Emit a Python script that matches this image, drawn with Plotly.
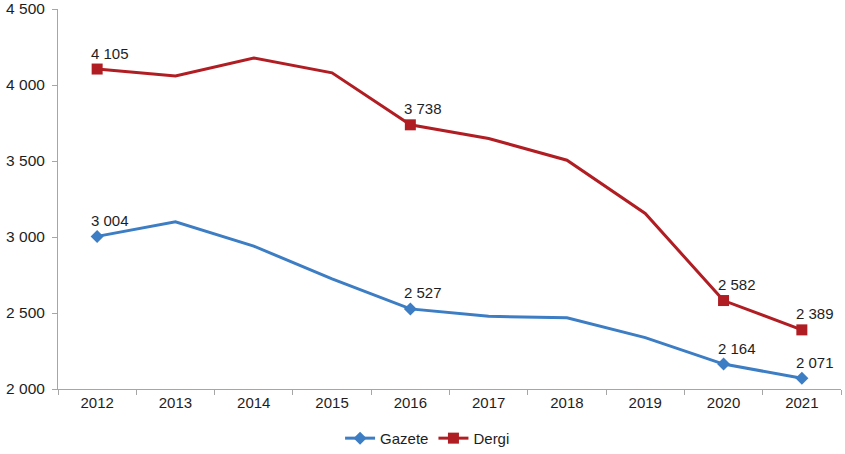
import plotly.graph_objects as go

years = ["2012", "2013", "2014", "2015", "2016", "2017", "2018", "2019", "2020", "2021"]
gazete = [3004, 3100, 2940, 2725, 2527, 2478, 2468, 2338, 2164, 2071]
dergi = [4105, 4060, 4178, 4080, 3738, 3648, 3505, 3155, 2582, 2389]
labeled_years = ["2012", "2016", "2020", "2021"]
y_ticks = [2000, 2500, 3000, 3500, 4000, 4500]

BLUE = "#3C7DC4"
RED = "#B01E23"
FONT = "Liberation Sans, Arial, sans-serif"
TXT = "#1E1E1E"


def fmt(v):
    return f"{v:,}".replace(",", " ")


def marker_colors(color):
    return [color if y in labeled_years else "rgba(0,0,0,0)" for y in years]


fig = go.Figure()
fig.add_trace(go.Scatter(
    x=years, y=gazete, name="Gazete", mode="lines+markers",
    line=dict(color=BLUE, width=3),
    marker=dict(symbol="diamond", size=10, color=marker_colors(BLUE), line=dict(width=0)),
))
fig.add_trace(go.Scatter(
    x=years, y=dergi, name="Dergi", mode="lines+markers",
    line=dict(color=RED, width=3),
    marker=dict(symbol="square", size=11, color=marker_colors(RED), line=dict(width=0)),
))

annotations = []
for series in (gazete, dergi):
    for i, (yr, v) in enumerate(zip(years, series)):
        if yr in labeled_years:
            annotations.append(dict(
                x=i, y=v, xref="x", yref="y", text=fmt(v), showarrow=False,
                xshift=13, yshift=16,
                font=dict(family=FONT, size=15, color=TXT),
            ))

fig.update_layout(
    width=845, height=454,
    margin=dict(l=58, r=4, t=9, b=65, autoexpand=False),
    paper_bgcolor="white", plot_bgcolor="white",
    font=dict(family=FONT, size=15, color=TXT),
    showlegend=True,
    legend=dict(orientation="h", x=0.472, xanchor="center", y=-0.13, yanchor="middle",
                font=dict(family=FONT, size=15, color=TXT), itemwidth=30,
                tracegroupgap=0),
    annotations=annotations,
)
fig.update_xaxes(
    type="category", categoryorder="array", categoryarray=years,
    range=[-0.5, len(years) - 0.5], tickangle=0, automargin=False,
    showline=True, linecolor="#A6A6A6", linewidth=1,
    ticks="outside", tickson="boundaries", ticklen=5, tickcolor="#A6A6A6",
    tickfont=dict(size=15),
    showgrid=False, zeroline=False,
)
fig.update_yaxes(
    range=[2000, 4500], tickvals=y_ticks, ticktext=[fmt(t) for t in y_ticks],
    automargin=False,
    showline=True, linecolor="#A6A6A6", linewidth=1,
    ticks="outside", ticklen=5, tickcolor="#A6A6A6",
    tickfont=dict(size=15.5), ticklabelstandoff=4,
    showgrid=False, zeroline=False,
)

fig.write_html(
    "out.html",
    config={"displayModeBar": False},
    post_script="document.body.style.margin='0';document.body.style.overflow='hidden';",
)
